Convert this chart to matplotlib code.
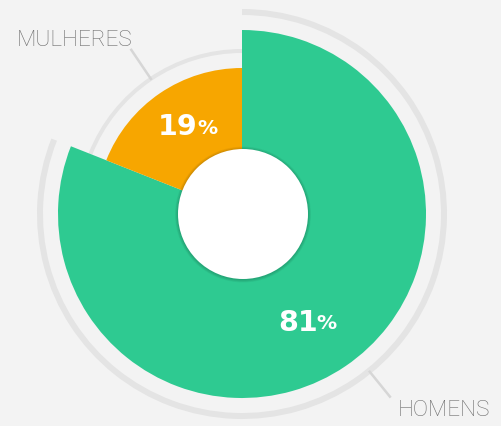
import numpy as np
import matplotlib
matplotlib.use('Agg')
import matplotlib.pyplot as plt
from matplotlib.patches import Wedge, Circle

labels = ['HOMENS', 'MULHERES']
values = [81, 19]
colors = ['#2eca91', '#f7a600']
radii = [184, 146]
ring_radii = [205, 165]
ring_widths = [6, 4]

cx, cy = 242, 212
bg = '#f3f3f3'

fig = plt.figure(figsize=(5.01, 4.26), dpi=100, facecolor=bg)
ax = fig.add_axes([0, 0, 1, 1])
ax.set_facecolor(bg)
ax.set_xlim(0, 501)
ax.set_ylim(0, 426)
ax.set_aspect('equal')
ax.axis('off')

# slices go clockwise from 12 o'clock
total = sum(values)
start = 90.0
angles = []
for v in values:
    end = start - 360.0 * v / total
    angles.append((end, start))
    start = end

for (a0, a1), r, rr, rw, c in zip(angles, radii, ring_radii, ring_widths, colors):
    ax.add_patch(Wedge((cx, cy), r, a0, a1, facecolor=c, edgecolor='none', zorder=2))
    ax.add_patch(Wedge((cx, cy), rr, a0, a1, width=rw, facecolor='#e4e4e4', edgecolor='none', zorder=1))

# white hole with soft shadow
for i in range(5):
    ax.add_patch(Circle((cx + 1, cy - 0.5), 68 - 0.6 * i, facecolor='#000000', alpha=0.035,
                        edgecolor='none', zorder=3))
ax.add_patch(Circle((cx + 1, cy), 65, facecolor='white', edgecolor='none', zorder=4))

# percentage labels
pct_pos = [(-58, 128), (121, 101)]
for v, (ang, r) in zip(values, pct_pos):
    x = cx + r * np.cos(np.radians(ang))
    y = cy + r * np.sin(np.radians(ang))
    ax.text(x + 8, y, str(v), color='white', fontsize=20.5, fontweight='bold',
            ha='right', va='center', family='DejaVu Sans', zorder=5)
    ax.text(x + 7, y - 1, '%', color='white', fontsize=14.5, fontweight='bold',
            ha='left', va='center', family='DejaVu Sans', zorder=5)

# category labels with connectors
label_specs = [(-51, 203, 235, (398, 16)), (124, 163, 198, (17, 385))]
for lab, (ang, r0, r1, (tx, ty)) in zip(labels, label_specs):
    c, s = np.cos(np.radians(ang)), np.sin(np.radians(ang))
    ax.plot([cx + r0 * c, cx + r1 * c], [cy + r0 * s, cy + r1 * s], color='#d6d6d6', lw=1.8, zorder=1)
    ax.text(tx, ty, lab, color='#6e6e6e', fontsize=16.2, family='Roboto', fontweight='light',
            ha='left', va='center')

fig.savefig('out.png', dpi=100, facecolor=bg)
